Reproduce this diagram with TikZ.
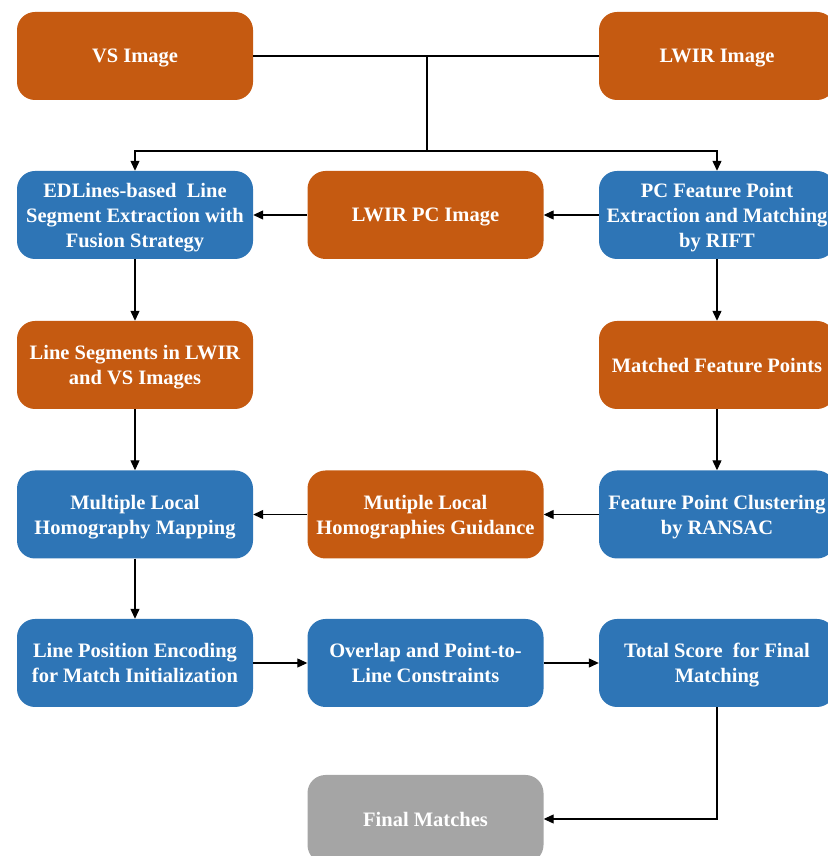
\documentclass[tikz,border=0pt]{standalone}
\usepackage{fontspec}
\setmainfont{Liberation Serif}
\usetikzlibrary{arrows.meta}

\definecolor{boxorange}{HTML}{C55A11}
\definecolor{boxblue}{HTML}{2E75B6}
\definecolor{boxgray}{HTML}{A5A5A5}

\tikzset{
  stage/.style={rounded corners=18pt, minimum width=236pt, minimum height=88pt,
    align=center, text=white, font=\bfseries\fontsize{20.5}{25}\selectfont,
    inner sep=2pt, text depth=0pt},
  datab/.style={stage, fill=boxorange},
  procb/.style={stage, fill=boxblue},
  outb/.style={stage, fill=boxgray},
  flow/.style={line width=1.2pt, -{Triangle[length=10pt,width=9pt]}},
}

\begin{document}
\begin{tikzpicture}[x=1pt, y=1pt]
  \useasboundingbox (0,0) rectangle (827,856);

  % row 1
  \node[datab] (vs)   at (135, 800) {VS Image};
  \node[datab] (lwir) at (717, 800) {LWIR Image};
  % row 2
  \node[procb] (edl) at (135, 641) {EDLines-based~ Line\\Segment Extraction with\\Fusion Strategy};
  \node[datab] (lpc) at (425.5, 641) {LWIR PC Image};
  \node[procb] (pcf) at (717, 641) {PC Feature Point\\Extraction and Matching\\by RIFT};
  % row 3
  \node[datab] (lseg) at (135, 491) {Line Segments in LWIR\\and VS Images};
  \node[datab] (mfp)  at (717, 491) {Matched Feature Points};
  % row 4
  \node[procb] (mlh) at (135, 341.5) {Multiple Local\\Homography Mapping};
  \node[datab] (mlg) at (425.5, 341.5) {Mutiple Local\\Homographies Guidance};
  \node[procb] (fpc) at (717, 341.5) {Feature Point Clustering\\by RANSAC};
  % row 5
  \node[procb] (lpe) at (135, 193) {Line Position Encoding\\for Match Initialization};
  \node[procb] (olc) at (425.5, 193) {Overlap and Point-to-\\Line Constraints};
  \node[procb] (tsf) at (717, 193) {Total Score~ for Final\\Matching};
  % row 6
  \node[outb] (fm) at (425.5, 37) {Final Matches};

  % split of the two inputs
  \coordinate (j1) at (427, 800);
  \coordinate (j2) at (427, 705);
  \draw[line width=1.2pt] (vs.east) -- (lwir.west);
  \draw[line width=1.2pt] (j1) -- (j2);
  \draw[flow] (j2) -| (edl.north);
  \draw[flow] (j2) -| (pcf.north);

  \draw[flow] (pcf) -- (lpc);
  \draw[flow] (lpc) -- (edl);
  \draw[flow] (edl) -- (lseg);
  \draw[flow] (lseg) -- (mlh);
  \draw[flow] (mlh) -- (lpe);
  \draw[flow] (pcf) -- (mfp);
  \draw[flow] (mfp) -- (fpc);
  \draw[flow] (fpc) -- (mlg);
  \draw[flow] (mlg) -- (mlh);
  \draw[flow] (lpe) -- (olc);
  \draw[flow] (olc) -- (tsf);
  \draw[flow] (tsf.south) |- (fm.east);
\end{tikzpicture}
\end{document}
